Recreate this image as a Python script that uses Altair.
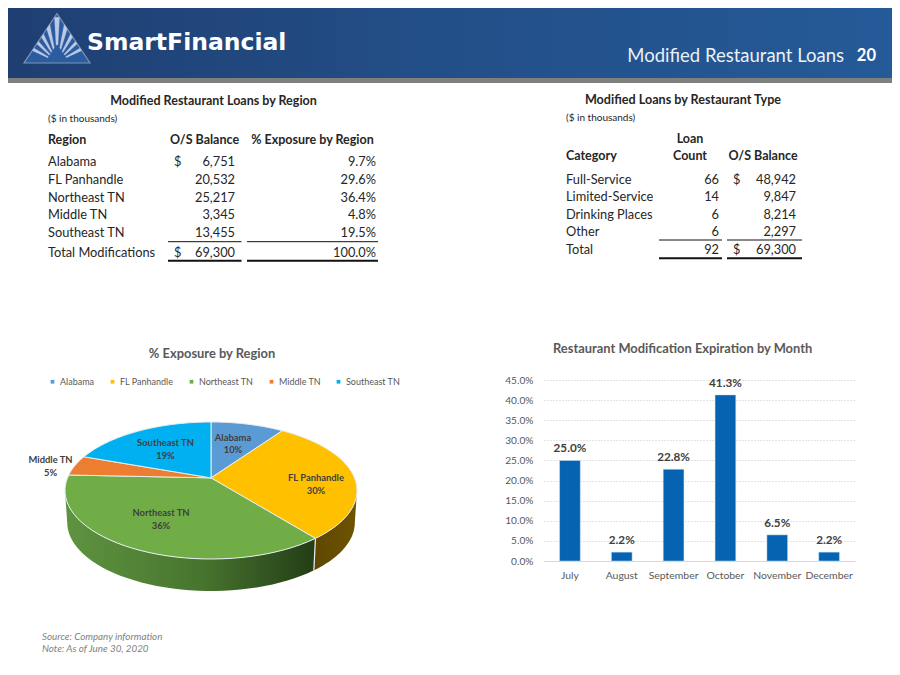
import math
import altair as alt
import pandas as pd

FONT = "Lato"
INK = "#262626"
GREY = "#595959"

# ---- values
regions = ["Alabama", "FL Panhandle", "Northeast TN", "Middle TN", "Southeast TN"]
balances = [6751, 20532, 25217, 3345, 13455]
balance_total = 69300
exposure = [9.7, 29.6, 36.4, 4.8, 19.5]
exposure_total = 100.0
pie_labels = ["10%", "30%", "36%", "5%", "19%"]
pie_colors = ["#5B9BD5", "#FFC000", "#70AD47", "#ED7D31", "#00B0F0"]

categories = ["Full-Service", "Limited-Service", "Drinking Places", "Other"]
loan_counts = [66, 14, 6, 6]
type_balances = [48942, 9847, 8214, 2297]
count_total = 92

months = ["July", "August", "September", "October", "November", "December"]
month_share = [0.250, 0.022, 0.228, 0.413, 0.065, 0.022]

# ---- page-pixel canvas for the slide furniture (chart origin is page 8,8)
X = alt.Scale(domain=[8, 892], nice=False, zero=False)
Y = alt.Scale(domain=[380, 8], nice=False, zero=False)
px = alt.X("x:Q", scale=X, axis=None)
py = alt.Y("y:Q", scale=Y, axis=None)


def txt(rows, align="left", size=12.8, weight="normal", color=INK, style="normal", font=FONT):
    df = pd.DataFrame(rows, columns=["t", "x", "y"])
    return alt.Chart(df).mark_text(
        align=align, baseline="middle", fontSize=size, fontWeight=weight,
        color=color, fontStyle=style, font=font,
    ).encode(x=px, y=py, text="t:N")


def band(x0, x1, y0, y1, color):
    df = pd.DataFrame({"x": [x0], "x2": [x1], "y": [y0], "y2": [y1]})
    return alt.Chart(df).mark_rect(color=color).encode(x=px, x2="x2:Q", y=py, y2="y2:Q")


def rules(rows, width):
    df = pd.DataFrame(rows, columns=["x", "x2", "y"])
    return alt.Chart(df).mark_rule(color="#111111", strokeWidth=width).encode(x=px, x2="x2:Q", y=py)


def polygon(df, x, y, **mark):
    return alt.Chart(df).mark_line(**mark).encode(
        x=x, y=y, order=alt.Order("i:Q"), detail="part:N"
    )


def gradient(stops, vertical=False):
    return alt.LinearGradient(
        gradient="linear",
        stops=[alt.GradientStop(color=c, offset=o) for c, o in stops],
        x1=0, x2=0 if vertical else 1, y1=0, y2=1 if vertical else 0,
    )


# ---- header
header = [
    band(8, 892, 8, 78, gradient([("#1f3f72", 0), ("#234f88", 0.5), ("#245a98", 1)])),
    band(8, 892, 78, 83, "#7f7f7f"),
]

# logo
tri = pd.DataFrame({"part": "t", "i": range(3), "x": [57, 90, 24], "y": [13.5, 63, 63]})
ray_rows = []
for n, a in enumerate([-62, -45, -29, -14, 0, 14, 29, 45, 62]):
    hw = 3.2
    pts = []
    for ang in (a - hw, a + hw):
        r = math.radians(ang)
        s_out = 32.0 / (abs(math.sin(r)) + 0.66 * math.cos(r))
        s_in = s_out * 0.38
        pts.append((ang, s_in, s_out))
    ring = [(pts[0][0], pts[0][1]), (pts[0][0], pts[0][2]), (pts[1][0], pts[1][2]), (pts[1][0], pts[1][1])]
    for i, (ang, s) in enumerate(ring):
        r = math.radians(ang)
        ray_rows.append({"part": f"r{n}", "i": i, "x": 57 + s * math.sin(r), "y": 62 - s * math.cos(r)})
rays = pd.DataFrame(ray_rows)
header += [
    polygon(tri, px, py, fill="#2a5c9f", stroke="#7f93b5", strokeWidth=1.2, interpolate="linear-closed"),
    polygon(rays, px, py, fill="#bcc9e6", stroke="#bcc9e6", strokeWidth=0.3, interpolate="linear-closed"),
    txt([("SmartFinancial", 87, 43)], size=23.5, weight="bold", color="#ffffff", font="DejaVu Sans"),
    txt([("Modified Restaurant Loans", 844, 55.5)], align="right", size=18.5, color="#eaf0f8"),
    txt([("20", 876, 56)], align="right", size=16.5, weight="bold", color="#ffffff"),
]

# ---- left table
rows_left = [162, 180, 197.5, 215, 233]
left = [
    txt([("Modified Restaurant Loans by Region", 213.5, 100.5)], align="center", weight="bold", size=12.5),
    txt([("($ in thousands)", 48, 118.5)], size=10),
    txt([("Region", 48, 139.5)], weight="bold", size=12.5),
    txt([("O/S Balance", 204.5, 139.5), ("% Exposure by Region", 312.5, 139.5)], align="center", weight="bold", size=12.5),
    txt([(r, 48, y) for r, y in zip(regions, rows_left)] + [("Total Modifications", 48, 252.5)]),
    txt([("$", 174, 162), ("$", 174, 252.5)]),
    txt([(f"{b:,}", 235, y) for b, y in zip(balances, rows_left)] + [(f"{balance_total:,}", 235, 252.5)], align="right"),
    txt([(f"{e:.1f}%", 376, y) for e, y in zip(exposure, rows_left)] + [(f"{exposure_total:.1f}%", 376, 252.5)], align="right"),
    rules([(168, 241.5, 241.7), (247, 378, 241.7)], 1),
    rules([(168, 241.5, 260.7), (247, 378, 260.7)], 2),
]

# ---- right table
rows_right = [179.5, 197, 215, 232]
right = [
    txt([("Modified Loans by Restaurant Type", 683, 99.5)], align="center", weight="bold", size=12.6),
    txt([("($ in thousands)", 566, 118)], size=10),
    txt([("Loan", 690, 138.5), ("Count", 690, 156), ("O/S Balance", 763, 156)], align="center", weight="bold", size=12.5),
    txt([("Category", 566, 156)], weight="bold", size=12.5),
    txt([(c, 566, y) for c, y in zip(categories, rows_right)] + [("Total", 566, 250)]),
    txt([(str(c), 719, y) for c, y in zip(loan_counts, rows_right)] + [(str(count_total), 719, 250)], align="right"),
    txt([("$", 733, 179.5), ("$", 733, 250)]),
    txt([(f"{b:,}", 796, y) for b, y in zip(type_balances, rows_right)] + [(f"{balance_total:,}", 796, 250)], align="right"),
    rules([(659, 722, 240), (727, 802, 240)], 1),
    rules([(659, 722, 258.3), (727, 802, 258.3)], 2),
]

top = alt.layer(*header, *left, *right).properties(width=884, height=372)

# ---- 3-D pie: unit circle seen in perspective, squashed by the x and y scales
PIE_X, PIE_Y, PIE_RX, PIE_RY, DEPTH = 211.0, 490.5, 146.0, 68.5, 0.467
K = 0.83
U = alt.Scale(domain=[(8 - PIE_X) / PIE_RX, (416 - PIE_X) / PIE_RX], nice=False, zero=False)
V = alt.Scale(domain=[(PIE_Y - 667) / PIE_RY, (PIE_Y - 380) / PIE_RY], nice=False, zero=False)
pu = alt.X("u:Q", scale=U, axis=None)
pv = alt.Y("v:Q", scale=V, axis=None)
APEX_V = (1 - K * K) / (1 + K * K)


def persp(theta):
    return 2 * math.atan2(K * math.sin(theta / 2), math.cos(theta / 2))


cum = [0.0]
for e in exposure:
    cum.append(cum[-1] + e)
cum = [c / cum[-1] * 2 * math.pi for c in cum]
edges = [persp(c) % (2 * math.pi) for c in cum[:-1]] + [2 * math.pi]

wedge_rows = []
for n, r in enumerate(regions):
    wedge_rows.append({"region": r, "i": 0, "u": 0.0, "v": APEX_V})
    for j in range(41):
        t = edges[n] + (edges[n + 1] - edges[n]) * j / 40
        wedge_rows.append({"region": r, "i": j + 1, "u": math.sin(t), "v": math.cos(t)})
wedges = pd.DataFrame(wedge_rows)


def side(t0, t1):
    rows = []
    for j in range(41):
        t = t0 + (t1 - t0) * j / 40
        rows.append({"part": "s", "i": j, "u": math.sin(t), "v": math.cos(t)})
    for j in range(41):
        t = t1 + (t0 - t1) * j / 40
        rows.append({"part": "s", "i": 41 + j, "u": 0.985 * math.sin(t), "v": math.cos(t) - DEPTH})
    return pd.DataFrame(rows)


fl_side = side(math.pi / 2, edges[2])
ne_side = side(edges[2], 1.5 * math.pi)
cut = pd.DataFrame({"part": "c", "i": [0, 1],
                    "u": [math.sin(edges[2]), 0.985 * math.sin(edges[2])],
                    "v": [math.cos(edges[2]), math.cos(edges[2]) - DEPTH]})

label_rows = [
    ("Alabama", 233, 437.5), ("10%", 233, 449.5),
    ("FL Panhandle", 316, 478), ("30%", 316, 490.5),
    ("Northeast TN", 161, 513), ("36%", 161, 525.5),
    ("Middle TN", 50.5, 460), ("5%", 50.5, 472.5),
    ("Southeast TN", 165.5, 443), ("19%", 165.5, 455.5),
]
labels = pd.DataFrame(
    [{"t": t, "u": (x - PIE_X) / PIE_RX, "v": (PIE_Y - y) / PIE_RY} for t, x, y in label_rows]
)

wedge_layer = alt.Chart(wedges).mark_line(stroke="#e8eef0", strokeWidth=1, interpolate="linear-closed").encode(
    x=pu, y=pv, order=alt.Order("i:Q"),
    fill=alt.Fill(
        "region:N",
        scale=alt.Scale(domain=regions, range=pie_colors),
        legend=alt.Legend(
            orient="none", legendX=40, legendY=369, direction="horizontal", columns=5, title=None,
            symbolType="square", symbolSize=14, symbolStrokeWidth=0, labelFont=FONT, labelFontSize=9,
            labelColor=GREY, labelOffset=3, columnPadding=13,
        ),
    ),
)

foot = pd.DataFrame({"t": ["Source: Company information", "Note: As of June 30, 2020"], "y": [257, 269]})
foot_layer = alt.Chart(foot).mark_text(
    align="left", baseline="middle", font=FONT, fontSize=9.8, fontStyle="italic", color="#7f7f7f"
).encode(x=alt.value(34), y=alt.Y("y:Q", scale=None), text="t:N")

title_style = dict(font=FONT, fontSize=12.9, fontWeight="bold", color=GREY, offset=19, frame="group")

pie = alt.layer(
    polygon(fl_side, pu, pv, fill=gradient([("#5f4700", 0), ("#6e5300", 1)]), strokeWidth=0, interpolate="linear-closed"),
    polygon(ne_side, pu, pv, strokeWidth=0, interpolate="linear-closed",
            fill=gradient([("#5e9440", 0), ("#47742e", 0.55), ("#233d17", 1)])),
    polygon(cut, pu, pv, stroke="#e8eef0", strokeWidth=1.2),
    wedge_layer,
    alt.Chart(labels).mark_text(font=FONT, fontSize=9.4, fontWeight="bold", color="#404040").encode(x=pu, y=pv, text="t:N"),
    foot_layer,
).properties(width=408, height=287, title=alt.TitleParams("% Exposure by Region", **title_style))

# ---- bars
bars_df = pd.DataFrame({"month": months, "share": month_share})
bx = alt.X(
    "month:N", sort=months, title=None,
    scale=alt.Scale(paddingInner=0.6, paddingOuter=0.3),
    axis=alt.Axis(labelAngle=0, labelFont=FONT, labelFontSize=10.4, labelColor=GREY, ticks=False,
                  domainColor="#d9d9d9", labelPadding=9, grid=False, labelOverlap=False),
)
by = alt.Y(
    "share:Q", title=None, scale=alt.Scale(domain=[0, 0.45], nice=False),
    axis=alt.Axis(values=[i * 0.05 for i in range(10)], format=".1%", labelFont=FONT, labelFontSize=10.2,
                  labelColor=GREY, ticks=False, domain=False, labelPadding=11, grid=True,
                  gridColor="#c8c8c8", gridDash=[1, 2], gridWidth=1),
)
base = alt.Chart(bars_df).encode(x=bx, y=by)
bar = alt.layer(
    base.mark_bar(color="#0563B1", stroke="#cfe3f5", strokeWidth=0.5),
    base.mark_text(font=FONT, fontSize=11.7, fontWeight="bold", color="#404040", baseline="bottom", dy=-6).encode(
        text=alt.Text("share:Q", format=".1%")
    ),
).properties(width=311, height=181, title=alt.TitleParams(
    "Restaurant Modification Expiration by Month", anchor="start", dx=9, **title_style))

lower = alt.hconcat(pie, bar, spacing=128, bounds="flush")
chart = alt.vconcat(top, lower, spacing=0, bounds="flush").properties(
    padding=0, background="#ffffff"
).configure_view(stroke=None)

chart.save("out.html", embed_options={"renderer": "svg", "actions": False})
